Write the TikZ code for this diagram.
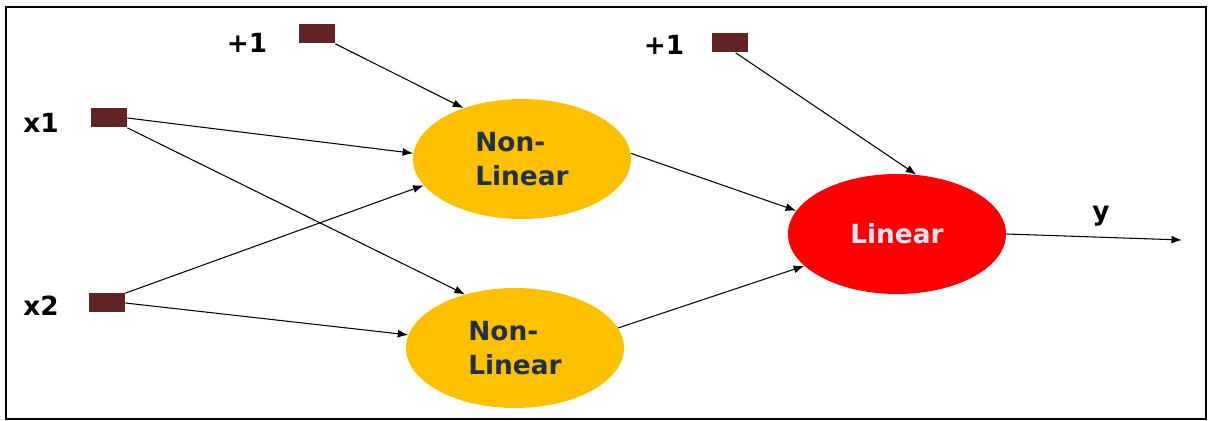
\documentclass[tikz,border=0pt]{standalone}
\usepackage{fontspec}
\setsansfont{DejaVu Sans}
\usetikzlibrary{arrows.meta,shapes.geometric}
\definecolor{biasbrown}{HTML}{632523}
\definecolor{hiddenfill}{HTML}{FFC000}
\definecolor{outfill}{HTML}{FF0000}
\definecolor{navytext}{HTML}{1F3049}
\definecolor{paletext}{HTML}{DCE6F2}

\begin{document}
\begin{tikzpicture}[
  x=0.2mm,y=-0.2mm,
  font=\sffamily\bfseries\fontsize{15}{18}\selectfont,
  >={Latex[length=6pt,width=4.5pt]},
  wire/.style={->,line width=0.6pt,draw=black},
  unit/.style={fill=biasbrown,minimum width=0.72cm,minimum height=0.38cm,inner sep=0pt},
  lbl/.style={text=black,inner sep=0pt},
  hidden/.style={ellipse,fill=hiddenfill,minimum width=4.36cm,minimum height=2.4cm,
                 inner sep=0pt,align=left,text=navytext,
                 font=\sffamily\bfseries\fontsize{15}{19}\selectfont},
  output/.style={hidden,fill=outfill,text=paletext}
]

\useasboundingbox (0,0) rectangle (1209,421);
\draw[line width=1.6pt] (6,7) rectangle (1206,419);

% Inputs and biases
\node[unit] (x1) at (109,118) {};
\node[unit] (x2) at (107,303) {};
\node[unit] (b1) at (317,34) {};
\node[unit] (b2) at (730,43) {};
\node[lbl] (x1lbl) at (41,123) {x1};
\node[lbl] (x2lbl) at (41,306) {x2};
\node[lbl] (b1lbl) at (247,43) {+1};
\node[lbl] (b2lbl) at (664,45) {+1};

% Hidden layer and output
\node[hidden] (nl1) at (522,159) {Non-\\Linear};
\node[hidden] (nl2) at (515,348) {Non-\\Linear};
\node[output] (lin) at (897,234) {Linear};
\coordinate (yend) at (1182,240);
\node[lbl] (ylbl) at (1101,216) {y};

% Arrows
\draw[wire] (b1.south east) -- (nl1.139);
\draw[wire] (x1.east) -- (nl1.177);
\draw[wire] (x2.north east) -- (nl1.195);
\draw[wire] (x1.south east) -- (nl2.133);
\draw[wire] (x2.east) -- (nl2.173);
\draw[wire] (nl1.3) -- (lin.167);
\draw[wire] (nl2.11) -- (lin.199);
\draw[wire] (b2.-60) -- (lin.72);
\draw[wire] (lin.0) -- (yend);

\end{tikzpicture}
\end{document}
